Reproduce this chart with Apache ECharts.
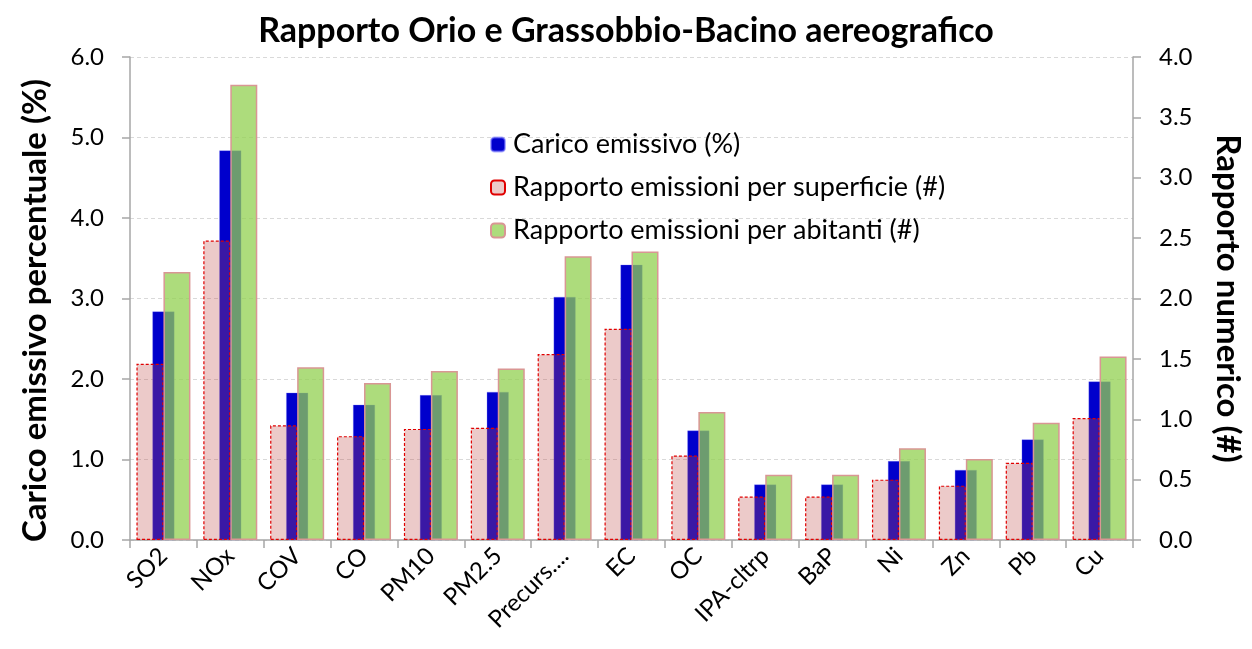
<!DOCTYPE html>
<html>
<head>
<meta charset="utf-8">
<script src="https://cdn.jsdelivr.net/npm/echarts@6/dist/echarts.min.js"></script>
<style>
  html, body { margin: 0; padding: 0; background: #fff; }
  #chart { width: 1252px; height: 649px; }
</style>
</head>
<body>
<div id="chart"></div>
<script>
// categorie (inquinanti)
const categories = ['SO2', 'NOx', 'COV', 'CO', 'PM10', 'PM2.5', 'Precurs....', 'EC', 'OC', 'IPA-cltrp', 'BaP', 'Ni', 'Zn', 'Pb', 'Cu'];
// carico emissivo percentuale (asse sinistro)
const caricoEmissivo = [2.84, 4.84, 1.83, 1.68, 1.80, 1.84, 3.02, 3.42, 1.36, 0.69, 0.69, 0.98, 0.87, 1.25, 1.97];
// rapporti numerici (asse destro)
const rapportoSuperficie = [1.46, 2.48, 0.95, 0.86, 0.92, 0.93, 1.54, 1.75, 0.70, 0.36, 0.36, 0.50, 0.45, 0.64, 1.01];
const rapportoAbitanti = [2.22, 3.77, 1.43, 1.30, 1.40, 1.42, 2.35, 2.39, 1.06, 0.54, 0.54, 0.76, 0.67, 0.97, 1.52];

const FONT = 'Lato';
const axisColor = '#a6a6a6';

let chart = echarts.init(document.getElementById('chart'));
let option = {
  textStyle: { fontFamily: FONT },
  title: {
    text: 'Rapporto Orio e Grassobbio-Bacino aereografico',
    left: 'center',
    top: 9,
    textStyle: { fontFamily: FONT, fontSize: 34, fontWeight: 'bold', color: '#000' },
  },
  legend: {
    orient: 'vertical',
    left: 485,
    top: 126,
    itemWidth: 14,
    itemHeight: 14,
    itemGap: 16,
    textStyle: { fontFamily: FONT, fontSize: 27, color: '#000', padding: [0, 0, 0, 3] },
    data: ['Carico emissivo (%)', 'Rapporto emissioni per superficie (#)', 'Rapporto emissioni per abitanti (#)'],
  },
  grid: { left: 130, right: 115, top: 57, bottom: 109 },
  xAxis: [
    {
      type: 'category',
      data: categories,
      axisLine: { lineStyle: { color: axisColor, width: 1.5 } },
      axisTick: { show: true, length: 8, lineStyle: { color: axisColor, width: 1.5 } },
      axisLabel: { rotate: 45, fontSize: 24, color: '#000', margin: 12, interval: 0 },
    },
    {
      // asse nascosto per centrare le barre blu
      type: 'category',
      data: categories,
      show: false,
    },
  ],
  yAxis: [
    {
      type: 'value',
      min: 0,
      max: 6,
      interval: 1,
      name: 'Carico emissivo percentuale (%)',
      nameLocation: 'middle',
      nameGap: 78,
      nameTextStyle: { fontFamily: FONT, fontSize: 33, fontWeight: 'bold', color: '#000', padding: [0, 24, 0, 0] },
      axisLine: { show: true, lineStyle: { color: axisColor, width: 1.5 } },
      axisTick: { show: true, length: 8, lineStyle: { color: axisColor, width: 1.5 } },
      axisLabel: { fontSize: 24, color: '#000', margin: 26, formatter: (v) => v.toFixed(1) },
      splitLine: { lineStyle: { color: '#d9d9d9', type: [4, 3] } },
    },
    {
      type: 'value',
      min: 0,
      max: 4,
      interval: 0.5,
      name: 'Rapporto numerico (#)',
      nameLocation: 'middle',
      nameRotate: -90,
      nameGap: 78,
      nameTextStyle: { fontFamily: FONT, fontSize: 33, fontWeight: 'bold', color: '#000' },
      axisLine: { show: true, lineStyle: { color: axisColor, width: 1.5 } },
      axisTick: { show: true, length: 8, lineStyle: { color: axisColor, width: 1.5 } },
      axisLabel: { fontSize: 24, color: '#000', margin: 26, formatter: (v) => v.toFixed(1) },
      splitLine: { show: false },
    },
  ],
  series: [
    {
      name: 'Carico emissivo (%)',
      type: 'bar',
      xAxisIndex: 1,
      yAxisIndex: 0,
      barWidth: 22,
      data: caricoEmissivo,
      itemStyle: { color: '#0000cc', borderColor: 'rgba(120,120,255,0.6)', borderWidth: 0.5 },
    },
    {
      name: 'Rapporto emissioni per superficie (#)',
      type: 'bar',
      xAxisIndex: 0,
      yAxisIndex: 1,
      barWidth: 27,
      barGap: '0%',
      data: rapportoSuperficie,
      itemStyle: { color: 'rgba(192,80,77,0.3)', borderColor: '#e00000', borderWidth: 1.2, borderType: [3, 2] },
    },
    {
      name: 'Rapporto emissioni per abitanti (#)',
      type: 'bar',
      xAxisIndex: 0,
      yAxisIndex: 1,
      barWidth: 27,
      barGap: '0%',
      data: rapportoAbitanti,
      itemStyle: { color: 'rgba(146,208,80,0.75)', borderColor: '#d99694', borderWidth: 1.5 },
    },
  ],
};
chart.setOption(option, true);
</script>
</body>
</html>
